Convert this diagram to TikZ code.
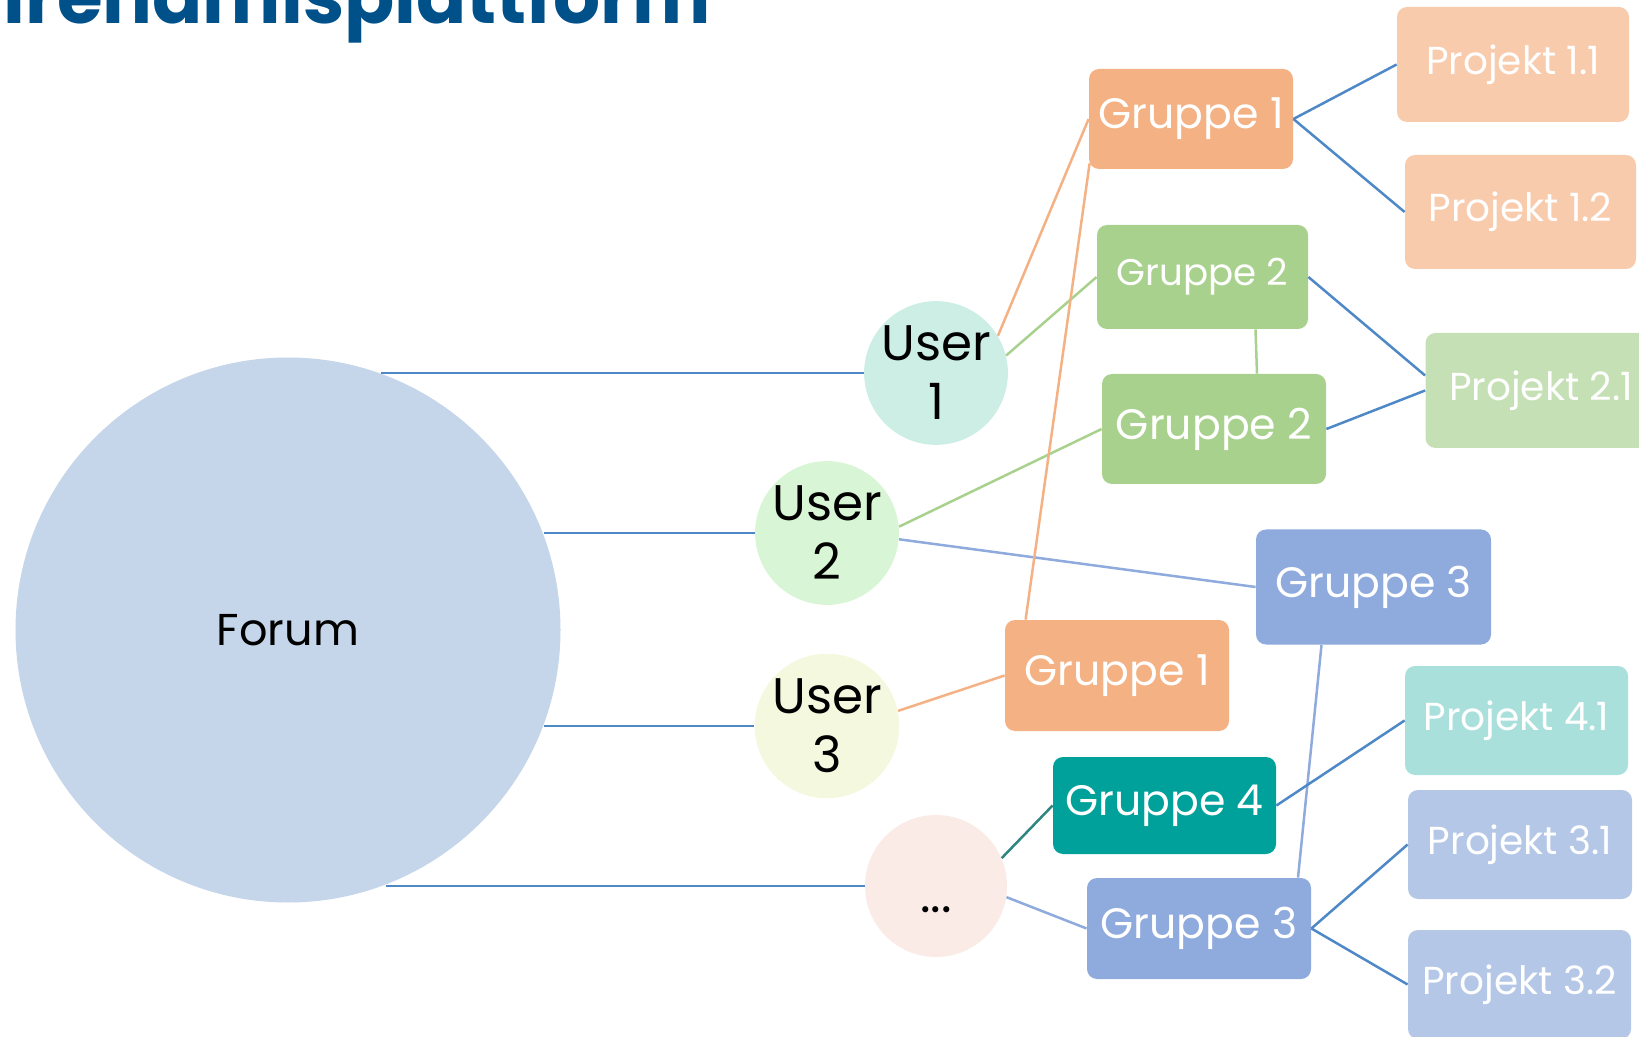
\documentclass[tikz,border=0pt]{standalone}
\usepackage{fontspec}
\setmainfont{Poppins}
\usetikzlibrary{calc}

\definecolor{titelblau}{RGB}{0,80,138}
\definecolor{forumfill}{RGB}{197,213,234}
\definecolor{useronefill}{RGB}{204,238,228}
\definecolor{usertwofill}{RGB}{216,245,213}
\definecolor{userthreefill}{RGB}{244,248,222}
\definecolor{dotsfill}{RGB}{251,235,230}
\definecolor{orange1}{RGB}{244,177,131}
\definecolor{green1}{RGB}{169,209,142}
\definecolor{blue1}{RGB}{143,170,220}
\definecolor{teal1}{RGB}{0,161,154}
\definecolor{orange2}{RGB}{248,203,173}
\definecolor{green2}{RGB}{197,224,180}
\definecolor{blue2}{RGB}{180,199,231}
\definecolor{teal2}{RGB}{170,224,220}
\definecolor{linkblue}{RGB}{79,136,198}
\definecolor{linkteal}{RGB}{46,134,128}

\begin{document}
\begin{tikzpicture}[x=0.5pt, y=-0.5pt,
  gruppe/.style={rectangle, rounded corners=5pt, inner sep=0pt, text=white, font=\fontsize{21.3}{26}\selectfont},
  projekt/.style={gruppe, font=\fontsize{19.5}{24}\selectfont},
  user/.style={circle, inner sep=0pt, minimum size=71pt, align=center, font=\fontsize{25}{29.5}\selectfont},
  link/.style={line width=1.25pt, draw=linkblue}]
  \useasboundingbox (0,0) rectangle (1639,1037);

  % Titel, oben abgeschnitten
  \node[anchor=base east, inner sep=0pt, text=titelblau, font=\fontsize{37}{44}\selectfont\bfseries] (titel) at (711,24) {irenamisplattform};

  % Forum und User
  \node[circle, inner sep=0pt, minimum size=272.5pt, fill=forumfill, font=\fontsize{22.3}{27}\selectfont] (forum) at (288,630) {Forum};
  \node[user, fill=useronefill] (u1) at (936,373) {User\\1};
  \node[user, fill=usertwofill] (u2) at (827,533) {User\\2};
  \node[user, fill=userthreefill] (u3) at (827,726) {User\\3};
  \node[user, fill=dotsfill, text height=26pt, text depth=0pt] (dots) at (936,886) {...};

  % Gruppen
  \node[gruppe, fill=orange1, minimum width=102pt, minimum height=50pt] (g1a) at (1191,119) {Gruppe 1};
  \node[gruppe, fill=green1, minimum width=105.5pt, minimum height=52pt, font=\fontsize{18.6}{23}\selectfont] (g2a) at (1202.5,277) {Gruppe 2};
  \node[gruppe, fill=green1, minimum width=112pt, minimum height=55pt] (g2b) at (1214,429) {Gruppe 2};
  \node[gruppe, fill=blue1, minimum width=117.5pt, minimum height=57.5pt] (g3a) at (1373.5,587) {Gruppe 3};
  \node[gruppe, fill=orange1, minimum width=112pt, minimum height=55.5pt] (g1b) at (1117,675.5) {Gruppe 1};
  \node[gruppe, fill=teal1, minimum width=111.5pt, minimum height=48.5pt] (g4) at (1164.5,805.5) {Gruppe 4};
  \node[gruppe, fill=blue1, minimum width=112pt, minimum height=50.5pt] (g3b) at (1199,928.5) {Gruppe 3};

  % Projekte
  \node[projekt, fill=orange2, minimum width=116pt, minimum height=57.5pt] (p11) at (1513,64.5) {Projekt 1.1};
  \node[projekt, fill=orange2, minimum width=115.5pt, minimum height=57pt] (p12) at (1520.5,212) {Projekt 1.2};
  \node[projekt, fill=green2, minimum width=115.5pt, minimum height=57.5pt] (p21) at (1541,390.5) {Projekt 2.1};
  \node[projekt, fill=teal2, minimum width=111.5pt, minimum height=54.5pt] (p41) at (1516.5,720.5) {Projekt 4.1};
  \node[projekt, fill=blue2, minimum width=112pt, minimum height=54.5pt] (p31) at (1520,844.5) {Projekt 3.1};
  \node[projekt, fill=blue2, minimum width=111.5pt, minimum height=54.5pt] (p32) at (1519.5,984.5) {Projekt 3.2};

  % Forum -> User
  \draw[link] (u1.west -| forum.70.6) -- (u1.west);
  \draw[link] (u2.west -| forum.20.9) -- (u2.west);
  \draw[link] (u3.west -| forum.-20.6) -- (u3.west);
  \draw[link] (dots.west -| forum.-69.9) -- (dots.west);

  % User -> Gruppen
  \draw[link, draw=orange1] (u1.31) -- (g1a.west);
  \draw[link, draw=green1] (u1.14) -- (g2a.west);
  \draw[link, draw=green1] (u2.5) -- (g2b.west);
  \draw[link, draw=blue1] (u2.-5) -- (g3a.west);
  \draw[link, draw=orange1] (u3.12) -- (g1b.west);
  \draw[link, draw=linkteal] (dots.23) -- (g4.west);
  \draw[link, draw=blue1] (dots.-9) -- (g3b.west);

  % Gruppen untereinander
  \draw[link, draw=orange1] ($(g1a.south west)+(1,-6)$) -- ($(g1b.north west)+(21,0)$);
  \draw[link, draw=green1] ($(g2a.south)+(53,0)$) -- ($(g2b.north)+(43,0)$);
  \draw[link, draw=blue1] ($(g3a.south)+(-52,0)$) -- ($(g3b.north)+(99,0)$);

  % Gruppen -> Projekte
  \draw[link] (g1a.east) -- (p11.west);
  \draw[link] (g1a.east) -- (p12.west);
  \draw[link] (g2a.east) -- ($(p21.west)+(0,-15)$);
  \draw[link] (g2b.east) -- (p21.west);
  \draw[link] (g4.east) -- (p41.west);
  \draw[link] (g3b.east) -- (p31.west);
  \draw[link] (g3b.east) -- (p32.west);
\end{tikzpicture}
\end{document}
